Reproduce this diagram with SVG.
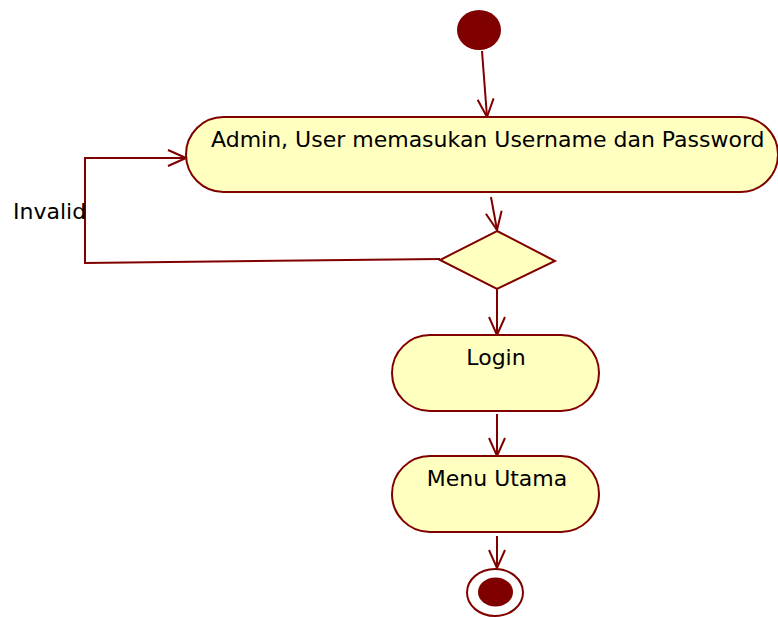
<svg xmlns="http://www.w3.org/2000/svg" width="778" height="617" viewBox="0 0 778 617">
  <style>
    .act { fill: #FFFFC0; stroke: #800000; stroke-width: 2; }
    .dot { fill: #800000; }
    .ring { fill: #FFFFFF; stroke: #800000; stroke-width: 2; }
    .flow { fill: none; stroke: #800000; stroke-width: 2; }
    .lbl { font-family: "DejaVu Sans", Verdana, sans-serif; font-size: 22px; fill: #000000; }
  </style>
  <defs>
    <marker id="open-arrow" viewBox="0 0 20 20" refX="19" refY="10" markerWidth="20" markerHeight="20" markerUnits="userSpaceOnUse" orient="auto">
      <path d="M1,2 L19,10 L1,18" fill="none" stroke="#800000" stroke-width="2"/>
    </marker>
  </defs>

  <rect width="778" height="617" fill="#FFFFFF"/>

  <!-- connectors -->
  <g id="connectors">
    <line class="flow" x1="482" y1="51" x2="487" y2="117" marker-end="url(#open-arrow)"/>
    <line class="flow" x1="491" y1="197" x2="497" y2="230" marker-end="url(#open-arrow)"/>
    <polyline class="flow" points="440,259 85,263 85,158 186,158" marker-end="url(#open-arrow)"/>
    <line class="flow" x1="497" y1="289" x2="497" y2="335" marker-end="url(#open-arrow)"/>
    <line class="flow" x1="497" y1="414" x2="497" y2="456" marker-end="url(#open-arrow)"/>
    <line class="flow" x1="497" y1="536" x2="497" y2="568" marker-end="url(#open-arrow)"/>
    <text class="lbl" x="13" y="219">Invalid</text>
  </g>

  <!-- start -->
  <g id="start">
    <ellipse class="dot" cx="479" cy="30" rx="22" ry="20"/>
  </g>

  <!-- input credentials -->
  <g id="input-credentials">
    <rect class="act" x="186" y="117" width="592" height="75" rx="37.5" ry="37.5"/>
    <text class="lbl" x="211" y="147">Admin, User memasukan Username dan Password</text>
  </g>

  <!-- decision -->
  <g id="decision">
    <polygon class="act" points="497,231 555,261 497,289 440,260"/>
  </g>

  <!-- login -->
  <g id="login">
    <rect class="act" x="392" y="335" width="207" height="76" rx="38" ry="38"/>
    <text class="lbl" x="496" y="365" text-anchor="middle">Login</text>
  </g>

  <!-- main menu -->
  <g id="menu-utama">
    <rect class="act" x="392" y="456" width="207" height="76" rx="38" ry="38"/>
    <text class="lbl" x="497" y="486" text-anchor="middle">Menu Utama</text>
  </g>

  <!-- end -->
  <g id="end">
    <ellipse class="ring" cx="495" cy="592.5" rx="28" ry="23.5"/>
    <ellipse class="dot" cx="495.5" cy="592" rx="17.5" ry="14.5"/>
  </g>
</svg>
